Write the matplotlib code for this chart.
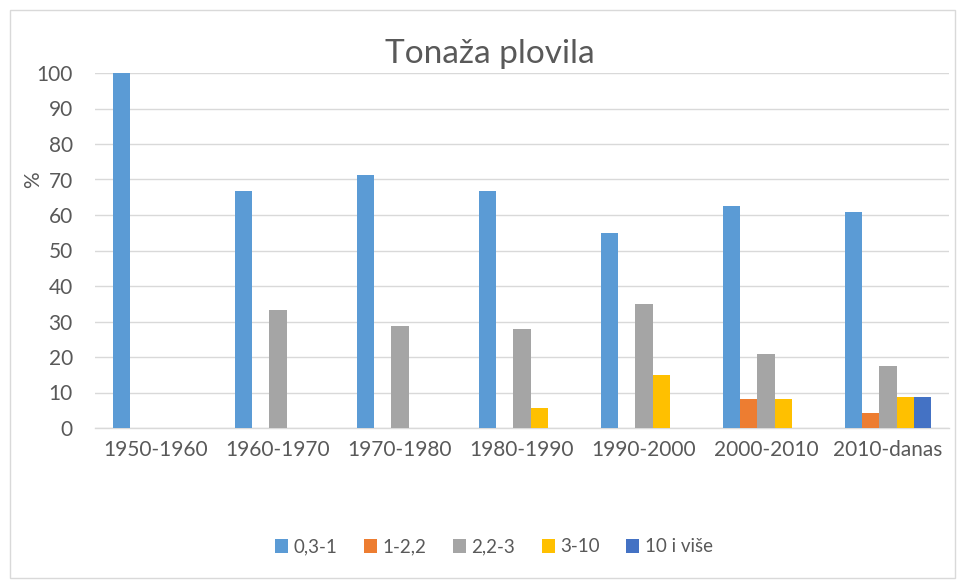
import numpy as np
import matplotlib.pyplot as plt
from matplotlib.patches import Rectangle

plt.rcParams['font.family'] = ['Lato', 'DejaVu Sans']

# data
periods = ['1950-1960', '1960-1970', '1970-1980', '1980-1990',
           '1990-2000', '2000-2010', '2010-danas']
series_names = ['0,3-1', '1-2,2', '2,2-3', '3-10', '10 i više']
t_03_1 = [100, 66.7, 71.4, 66.7, 55.0, 62.5, 60.9]
t_1_22 = [0, 0, 0, 0, 0, 8.3, 4.3]
t_22_3 = [0, 33.3, 28.6, 27.8, 35.0, 20.8, 17.4]
t_3_10 = [0, 0, 0, 5.6, 15.0, 8.3, 8.7]
t_10_plus = [0, 0, 0, 0, 0, 0, 8.7]
colors = ['#5B9BD5', '#ED7D31', '#A5A5A5', '#FFC000', '#4472C4']

text_col = '#595959'

fig = plt.figure(figsize=(9.58, 5.80), dpi=100)
ax = fig.add_axes([95 / 958, 1 - 428 / 580, 854 / 958, 355 / 580])

x = np.arange(len(periods))
width = 0.14
all_series = [t_03_1, t_1_22, t_22_3, t_3_10, t_10_plus]
for i, (vals, name, c) in enumerate(zip(all_series, series_names, colors)):
    ax.bar(x + (i - 2) * width, vals, width, color=c, label=name, zorder=3)

ax.set_xlim(-0.5, len(periods) - 0.5)
ax.set_ylim(0, 100)
ax.set_yticks(np.arange(0, 101, 10))
ax.set_xticks(x)
ax.set_xticklabels(periods)
ax.tick_params(axis='both', length=0, labelsize=15, colors=text_col)
ax.tick_params(axis='x', pad=9)
ax.tick_params(axis='y', pad=16)
ax.grid(axis='y', color='#D9D9D9', linewidth=1, zorder=0)
for s in ['top', 'right', 'left']:
    ax.spines[s].set_visible(False)
ax.spines['bottom'].set_color('#D9D9D9')
ax.spines['bottom'].set_linewidth(1)
ax.set_ylabel('%', fontsize=15, color=text_col)
ax.yaxis.set_label_coords(-0.061, 0.70)

fig.text(490 / 958, 1 - 54 / 580, 'Tonaža plovila', ha='center', va='center',
         fontsize=24, color=text_col)

ax.legend(loc='center', bbox_to_anchor=(494 / 958, 1 - 547 / 580),
          bbox_transform=fig.transFigure, ncol=5, frameon=False,
          fontsize=13.5, handlelength=0.7, handleheight=0.7,
          columnspacing=1.4, handletextpad=0.3, labelcolor=text_col)

# chart border
fig.patches.append(Rectangle((10 / 958, 2 / 580), 945 / 958, 568 / 580,
                             transform=fig.transFigure, fill=False,
                             edgecolor='#D9D9D9', linewidth=1))

fig.savefig('out.png', dpi=100)
